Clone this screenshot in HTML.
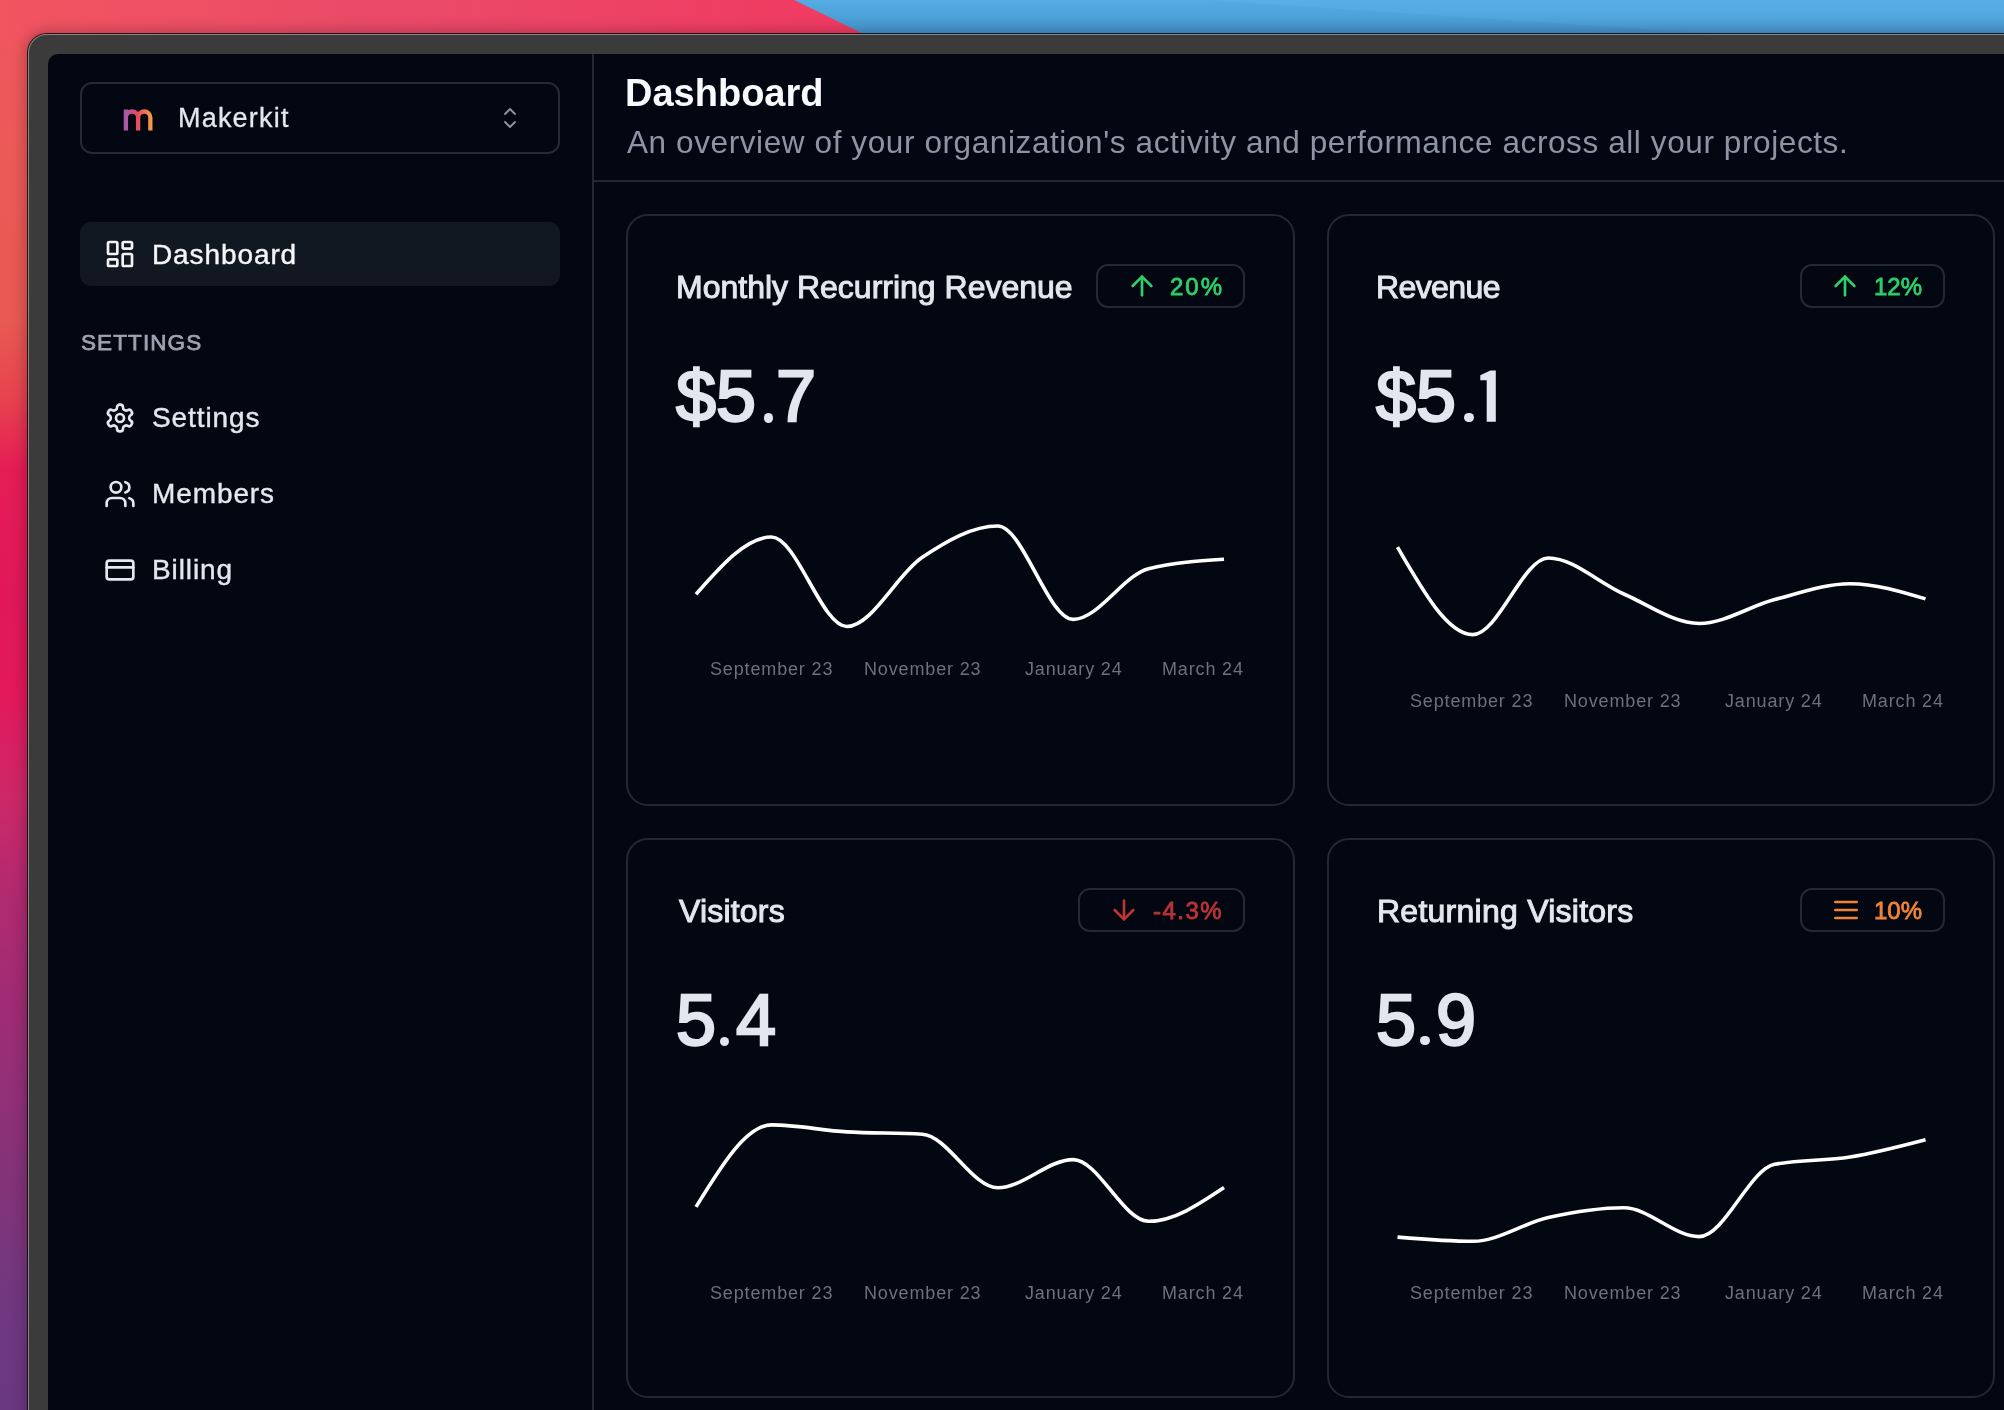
<!DOCTYPE html>
<html><head><meta charset="utf-8"><title>Makerkit Dashboard</title>
<style>
html,body{margin:0;padding:0;}
body{width:2004px;height:1410px;overflow:hidden;position:relative;font-family:"Liberation Sans",sans-serif;background:#e8405e;}
.bg{position:absolute;left:0;top:0;width:2004px;height:1410px;
 background:linear-gradient(180deg,#f0555f 0px,#ec5a58 150px,#e85a52 320px,#e8424f 400px,#e61c55 470px,#e0185a 600px,#e4185a 690px,#cc2868 800px,#b02a70 900px,#a02c74 1000px,#903078 1100px,#803478 1200px,#703880 1300px,#6a3880 1410px);}
.bgtop{position:absolute;left:0;top:0;width:2004px;height:40px;
 background:linear-gradient(90deg,#f25560 0px,#ea4a68 400px,#f03c62 800px);}
.blue{position:absolute;left:0;top:0;width:2004px;height:40px;background:linear-gradient(180deg,#54ace2 0px,#4597d0 33px);
 clip-path:polygon(794px 0,2004px 0,2004px 40px,876px 40px);}
.blue2{position:absolute;left:0;top:0;width:2004px;height:34px;background:linear-gradient(180deg,rgba(92,178,232,.55) 0px,rgba(80,165,222,.25) 34px);
 clip-path:polygon(1205px 0,2004px 0,2004px 34px,1720px 34px);}
.win{position:absolute;left:28px;top:34px;width:2100px;height:1500px;border-radius:19px;background:#3b3b3b;
 box-shadow:0 0 0 1px rgba(0,0,0,.78), 0 0 14px 3px rgba(30,0,30,.28), inset 0 0 0 1px rgba(150,144,138,.9);}
.screen{position:absolute;left:48px;top:54px;width:2050px;height:1450px;border-radius:10px;background:#030712;overflow:hidden;}
.t{position:absolute;white-space:nowrap;line-height:1;will-change:transform;}
.ic{position:absolute;}
.vline{position:absolute;left:592px;top:54px;width:2px;height:1400px;background:#222736;}
.hline{position:absolute;left:594px;top:180px;width:1500px;height:2px;background:#222736;}
.title{font-size:38px;font-weight:700;color:#f8fafc;}
.sub{font-size:31.5px;color:#8d95a5;letter-spacing:0.6px;}
.card{position:absolute;border:2px solid #232835;border-radius:22px;}
.badge{position:absolute;border:2px solid #232937;border-radius:12px;}
.ct{font-size:32px;color:#e4e7ee;-webkit-text-stroke:1px #e4e7ee;}
.num{font-size:72px;font-weight:400;color:#e3e6ee;-webkit-text-stroke:2.4px #e3e6ee;}
.dot{color:transparent;-webkit-text-stroke-color:transparent;}
.pd{position:absolute;width:9.8px;height:9.8px;border-radius:50%;background:#e3e6ee;}
.bt{font-size:24px;font-weight:400;-webkit-text-stroke:0.8px currentColor;}
.g{color:#2fcf6a;} .r{color:#bb3436;} .o{color:#f0843a;}
.ax{font-size:18px;color:#6c717b;letter-spacing:0.85px;}
.charts{position:absolute;left:0;top:0;}
.dd{position:absolute;left:80px;top:82px;width:476px;height:68px;border:2px solid #252a37;border-radius:12px;}
.logo{left:121px;top:100px;font-size:40px;font-weight:700;
 background:linear-gradient(90deg,#9a58b8 0%,#e8465f 50%,#f6a23f 100%);-webkit-background-clip:text;background-clip:text;color:transparent;}
.mk{font-size:27px;color:#e5e7ee;letter-spacing:1.2px;-webkit-text-stroke:0.3px #e5e7ee;}
.active{position:absolute;left:80px;top:222px;width:480px;height:64px;border-radius:11px;background:#121821;}
.nav{font-size:28px;color:#e5e7ee;letter-spacing:0.9px;-webkit-text-stroke:0.4px currentColor;}
.sec{font-size:22.5px;font-weight:400;color:#9ea4b0;letter-spacing:1.1px;-webkit-text-stroke:0.75px #9ea4b0;}
</style></head><body>
<div class="bg"></div>
<div class="bgtop"></div>
<div class="blue"></div><div class="blue2"></div>
<div class="win"></div>
<div class="screen"></div>
<div class="vline"></div>
<div class="hline"></div>
<div class="dd"></div><svg class="ic" style="left:0;top:0" width="300" height="200"><defs><linearGradient id="lg" gradientUnits="userSpaceOnUse" x1="123" y1="0" x2="153" y2="0"><stop offset="0" stop-color="#9a5cb8"/><stop offset="0.5" stop-color="#ea4a5e"/><stop offset="1" stop-color="#f6a640"/></linearGradient></defs><path d="M125.9,130.6 V109.5 M125.9,117.6 A6.1,6.1 0 0 1 138.1,117.6 V130.6 M138.1,117.6 A6.1,6.1 0 0 1 150.3,117.6 V130.6" fill="none" stroke="url(#lg)" stroke-width="4.3"/></svg><div class="t mk" style="left:178px;top:105px;">Makerkit</div><svg class="ic" style="left:0;top:0" width="600" height="200"><path d="M505,114 L510,109 L515,114 M505,122 L510,127 L515,122" fill="none" stroke="#8b93a1" stroke-width="1.9" stroke-linecap="round" stroke-linejoin="round"/></svg><div class="active"></div><svg class="ic" style="left:104px;top:238px;width:32px;height:32px" viewBox="0 0 24 24" fill="none" stroke="#f3f4f6" stroke-width="2" stroke-linecap="round" stroke-linejoin="round"><rect width="7" height="9" x="3" y="3" rx="1"/><rect width="7" height="5" x="14" y="3" rx="1"/><rect width="7" height="9" x="14" y="12" rx="1"/><rect width="7" height="5" x="3" y="16" rx="1"/></svg><div class="t nav" style="left:152px;top:241px;color:#f5f6f8">Dashboard</div><div class="t sec" style="left:81px;top:332px;">SETTINGS</div><svg class="ic" style="left:104px;top:402px;width:32px;height:32px" viewBox="0 0 24 24" fill="none" stroke="#e5e7ee" stroke-width="2" stroke-linecap="round" stroke-linejoin="round"><path d="M12.22 2h-.44a2 2 0 0 0-2 2v.18a2 2 0 0 1-1 1.73l-.43.25a2 2 0 0 1-2 0l-.15-.08a2 2 0 0 0-2.73.73l-.22.38a2 2 0 0 0 .73 2.73l.15.1a2 2 0 0 1 1 1.72v.51a2 2 0 0 1-1 1.74l-.15.09a2 2 0 0 0-.73 2.73l.22.38a2 2 0 0 0 2.73.73l.15-.08a2 2 0 0 1 2 0l.43.25a2 2 0 0 1 1 1.73V20a2 2 0 0 0 2 2h.44a2 2 0 0 0 2-2v-.18a2 2 0 0 1 1-1.73l.43-.25a2 2 0 0 1 2 0l.15.08a2 2 0 0 0 2.73-.73l.22-.39a2 2 0 0 0-.73-2.73l-.15-.08a2 2 0 0 1-1-1.74v-.5a2 2 0 0 1 1-1.74l.15-.09a2 2 0 0 0 .73-2.73l-.22-.38a2 2 0 0 0-2.73-.73l-.15.08a2 2 0 0 1-2 0l-.43-.25a2 2 0 0 1-1-1.73V4a2 2 0 0 0-2-2z"/><circle cx="12" cy="12" r="3"/></svg><div class="t nav" style="left:152px;top:404px;">Settings</div><svg class="ic" style="left:104px;top:478px;width:32px;height:32px" viewBox="0 0 24 24" fill="none" stroke="#e5e7ee" stroke-width="2" stroke-linecap="round" stroke-linejoin="round"><path d="M16 21v-2a4 4 0 0 0-4-4H6a4 4 0 0 0-4 4v2"/><circle cx="9" cy="7" r="4"/><path d="M22 21v-2a4 4 0 0 0-3-3.87"/><path d="M16 3.13a4 4 0 0 1 0 7.75"/></svg><div class="t nav" style="left:152px;top:480px;">Members</div><svg class="ic" style="left:104px;top:554px;width:32px;height:32px" viewBox="0 0 24 24" fill="none" stroke="#e5e7ee" stroke-width="2" stroke-linecap="round" stroke-linejoin="round"><rect width="20" height="14" x="2" y="5" rx="2"/><line x1="2" x2="22" y1="10" y2="10"/></svg><div class="t nav" style="left:152px;top:556px;">Billing</div>
<div class="t title" style="left:625px;top:74px">Dashboard</div>
<div class="t sub" style="left:627px;top:127px">An overview of your organization's activity and performance across all your projects.</div>
<div class="card" style="left:626px;top:214px;width:665px;height:588px"></div><div class="card" style="left:1327px;top:214px;width:664px;height:588px"></div><div class="card" style="left:626px;top:838px;width:665px;height:556px"></div><div class="card" style="left:1327px;top:838px;width:664px;height:556px"></div><div class="t ct" style="left:676px;top:271px;">Monthly Recurring Revenue</div><div class="t ct" style="left:1376px;top:271px;letter-spacing:-0.6px">Revenue</div><div class="t ct" style="left:678.5px;top:895px;letter-spacing:0.2px">Visitors</div><div class="t ct" style="left:1376.5px;top:895px;letter-spacing:0.25px">Returning Visitors</div><div class="t num" style="left:676px;top:360px;">$5<span class="dot">.</span>7</div><div class="t num" style="left:1376px;top:360px;">$5<span class="dot">.</span></div><svg class="ic" style="left:0;top:0" width="2004" height="1410"><polygon fill="#e3e6ee" points="1480.3,375.3 1490.3,370.4 1495.8,370.4 1495.8,421.7 1486.7,421.7 1486.7,380.2 1480.3,380.2"/></svg><div class="t num" style="left:676px;top:984px;">5<span class="dot">.</span>4</div><div class="t num" style="left:1376px;top:984px;">5<span class="dot">.</span>9</div><div class="pd" style="left:763.6px;top:412.8px"></div><div class="pd" style="left:1463.8px;top:412.6px"></div><div class="pd" style="left:719.7px;top:1036.6px"></div><div class="pd" style="left:1420.3px;top:1035.6px"></div><div class="badge" style="left:1096px;top:264px;width:145px;height:40px"></div><div class="badge" style="left:1800px;top:264px;width:141px;height:40px"></div><div class="badge" style="left:1078px;top:888px;width:163px;height:40px"></div><div class="badge" style="left:1800px;top:888px;width:141px;height:40px"></div><svg class="ic" style="left:1126px;top:270px;width:32px;height:32px" viewBox="0 0 24 24" fill="none" stroke="#2fcf6a" stroke-width="2" stroke-linecap="round" stroke-linejoin="round"><path d="m5 12 7-7 7 7"/><path d="M12 19V5"/></svg><svg class="ic" style="left:1829px;top:270px;width:32px;height:32px" viewBox="0 0 24 24" fill="none" stroke="#2fcf6a" stroke-width="2" stroke-linecap="round" stroke-linejoin="round"><path d="m5 12 7-7 7 7"/><path d="M12 19V5"/></svg><svg class="ic" style="left:1108px;top:894px;width:32px;height:32px" viewBox="0 0 24 24" fill="none" stroke="#bb3436" stroke-width="2" stroke-linecap="round" stroke-linejoin="round"><path d="M12 5v14"/><path d="m19 12-7 7-7-7"/></svg><svg class="ic" style="left:1830px;top:894px;width:32px;height:32px" viewBox="0 0 24 24" fill="none" stroke="#f0843a" stroke-width="2" stroke-linecap="round" stroke-linejoin="round"><line x1="4" x2="20" y1="12" y2="12"/><line x1="4" x2="20" y1="6" y2="6"/><line x1="4" x2="20" y1="18" y2="18"/></svg><div class="t bt g" style="left:1170px;top:275px;letter-spacing:2px">20%</div><div class="t bt g" style="left:1874px;top:275px;">12%</div><div class="t bt r" style="left:1153px;top:899px;letter-spacing:1.5px">-4.3%</div><div class="t bt o" style="left:1874px;top:899px;">10%</div><div class="t ax" style="left:710px;top:660px;">September 23</div><div class="t ax" style="left:864px;top:660px;">November 23</div><div class="t ax" style="left:1025px;top:660px;">January 24</div><div class="t ax" style="left:1162px;top:660px;">March 24</div><div class="t ax" style="left:1410px;top:692px;">September 23</div><div class="t ax" style="left:1564px;top:692px;">November 23</div><div class="t ax" style="left:1725px;top:692px;">January 24</div><div class="t ax" style="left:1862px;top:692px;">March 24</div><div class="t ax" style="left:710px;top:1284px;">September 23</div><div class="t ax" style="left:864px;top:1284px;">November 23</div><div class="t ax" style="left:1025px;top:1284px;">January 24</div><div class="t ax" style="left:1162px;top:1284px;">March 24</div><div class="t ax" style="left:1410px;top:1284px;">September 23</div><div class="t ax" style="left:1564px;top:1284px;">November 23</div><div class="t ax" style="left:1725px;top:1284px;">January 24</div><div class="t ax" style="left:1862px;top:1284px;">March 24</div><svg class="charts" width="2004" height="1410" viewBox="0 0 2004 1410" fill="none" stroke="#ffffff" stroke-width="3.6">
<path d="M696.00,594.30 C721.14,565.65 746.29,537.00 771.43,537.00 C796.57,537.00 821.72,626.50 846.86,626.50 C872.00,626.50 897.15,574.05 922.29,557.30 C947.43,540.55 972.58,526.00 997.72,526.00 C1022.86,526.00 1048.01,619.40 1073.15,619.40 C1098.29,619.40 1123.44,574.97 1148.58,568.70 C1173.72,562.43 1198.87,560.87 1224.01,559.30"/><path d="M1397.50,547.20 C1422.64,590.90 1447.79,634.60 1472.93,634.60 C1498.07,634.60 1523.22,558.00 1548.36,558.00 C1573.50,558.00 1598.65,583.08 1623.79,594.00 C1648.93,604.92 1674.08,623.50 1699.22,623.50 C1724.36,623.50 1749.51,606.23 1774.65,599.60 C1799.79,592.97 1824.94,583.70 1850.08,583.70 C1875.22,583.70 1900.37,591.30 1925.51,598.90"/><path d="M696.00,1206.90 C721.14,1165.90 746.29,1124.90 771.43,1124.90 C796.57,1124.90 821.72,1130.37 846.86,1131.90 C872.00,1133.43 897.15,1132.67 922.29,1134.20 C947.43,1135.73 972.58,1187.80 997.72,1187.80 C1022.86,1187.80 1048.01,1159.60 1073.15,1159.60 C1098.29,1159.60 1123.44,1221.30 1148.58,1221.30 C1173.72,1221.30 1198.87,1204.45 1224.01,1187.60"/><path d="M1397.50,1237.10 C1422.64,1239.20 1447.79,1241.30 1472.93,1241.30 C1498.07,1241.30 1523.22,1223.18 1548.36,1217.60 C1573.50,1212.02 1598.65,1207.80 1623.79,1207.80 C1648.93,1207.80 1674.08,1236.60 1699.22,1236.60 C1724.36,1236.60 1749.51,1169.17 1774.65,1164.30 C1799.79,1159.43 1824.94,1161.10 1850.08,1157.00 C1875.22,1152.90 1900.37,1146.30 1925.51,1139.70"/></svg>
</body></html>
